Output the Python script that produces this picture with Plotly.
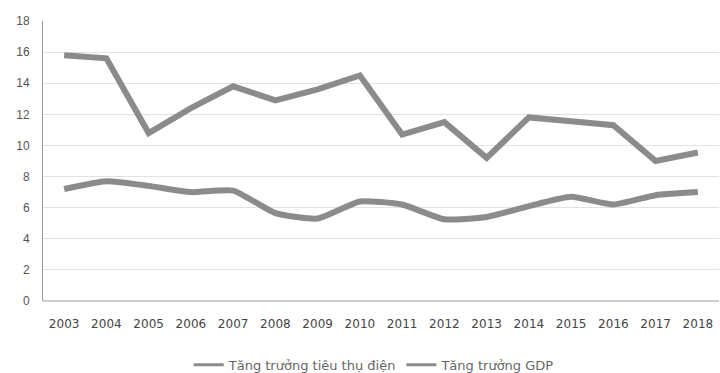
import plotly.graph_objects as go

years = [str(y) for y in range(2003, 2019)]
dien = [15.8, 15.6, 10.8, 12.4, 13.8, 12.9, 13.6, 14.5, 10.7, 11.5, 9.2, 11.8, 11.55, 11.3, 9.0, 9.55]
gdp = [7.2, 7.7, 7.4, 7.0, 7.1, 5.65, 5.3, 6.4, 6.2, 5.25, 5.4, 6.1, 6.7, 6.2, 6.8, 7.0]
y_ticks = [0, 2, 4, 6, 8, 10, 12, 14, 16, 18]
names = ["Tăng trưởng tiêu thụ điện", "Tăng trưởng GDP"]

line_color = "#8b8b8b"

fig = go.Figure()
fig.add_trace(go.Scatter(
    x=years, y=dien, mode="lines", name=names[0], showlegend=False,
    line=dict(color=line_color, width=6),
))
fig.add_trace(go.Scatter(
    x=years, y=gdp, mode="lines", name=names[1], showlegend=False,
    line=dict(color=line_color, width=6, shape="spline", smoothing=0.5),
))
# legend keys drawn with a thinner stroke than the plotted lines
for n in names:
    fig.add_trace(go.Scatter(
        x=[None], y=[None], mode="lines", name=n,
        line=dict(color=line_color, width=3),
    ))

fig.update_layout(
    width=720, height=373,
    margin=dict(l=43, r=1, t=21, b=72),
    paper_bgcolor="white", plot_bgcolor="white",
    font=dict(family="Liberation Sans, Arial, sans-serif", size=11, color="#555555"),
    showlegend=True,
    legend=dict(
        orientation="h", x=0.49, xanchor="center",
        yref="container", y=0.022, yanchor="middle",
        font=dict(family="DejaVu Sans, sans-serif", size=13, color="#666666"),
        itemwidth=30,
    ),
    xaxis=dict(
        type="category", range=[-0.5, 15.5], showgrid=False, showline=False, ticks="",
        ticklabelstandoff=14,
        tickfont=dict(family="DejaVu Sans, sans-serif", size=12, color="#444444"),
    ),
    yaxis=dict(
        range=[0, 18], tickvals=y_ticks, showgrid=True, gridcolor="#e2e2e2", gridwidth=1,
        showline=True, linecolor="#9a9a9a", linewidth=1, zeroline=True,
        zerolinecolor="#cfcfcf", ticks="", ticklabelstandoff=10,
        tickfont=dict(size=12, color="#555555"),
    ),
)

fig.write_html("out.html")
